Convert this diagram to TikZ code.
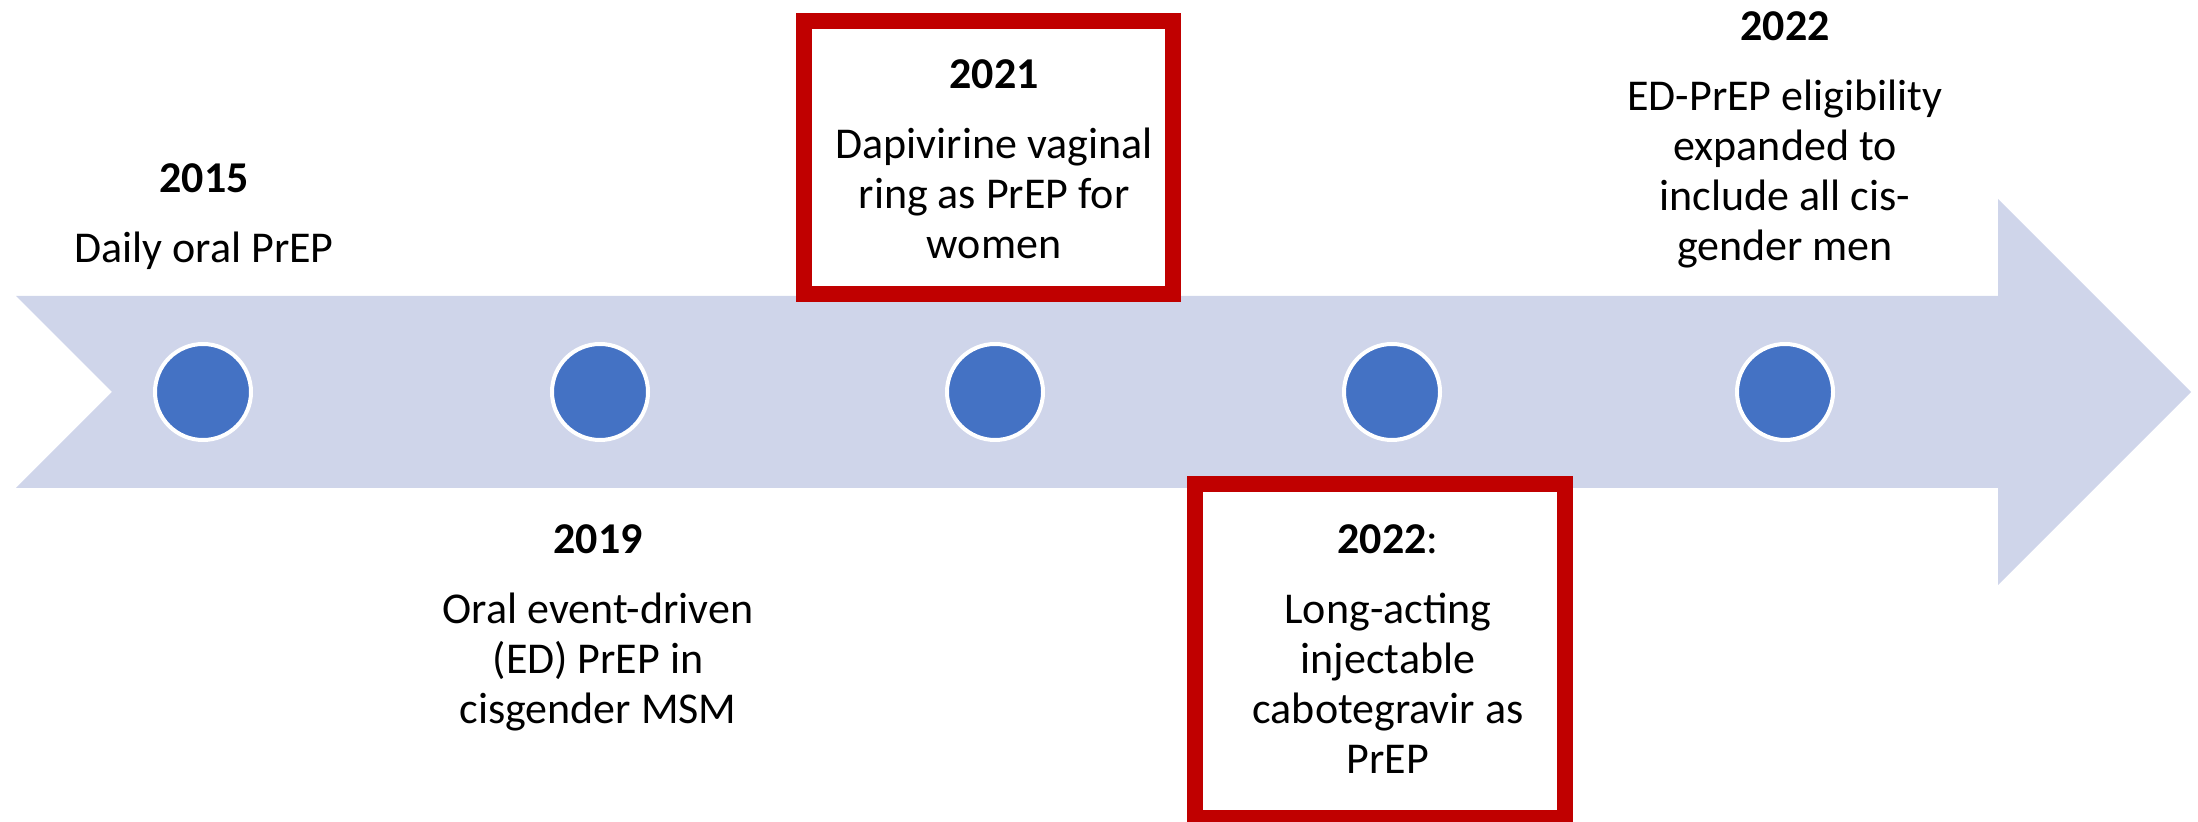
\documentclass[tikz,border=0pt]{standalone}
\usepackage{fontspec}
\setmainfont{Carlito}
\definecolor{BandBlue}{RGB}{207,213,234}
\definecolor{DotBlue}{RGB}{68,114,196}
\definecolor{FrameRed}{RGB}{192,0,0}
\tikzset{
  band/.style={fill=BandBlue},
  dot/.style={circle,fill=DotBlue,draw=white,line width=2pt,
    minimum size=48pt,inner sep=0pt},
  event/.style={anchor=north,align=center,inner sep=0pt,
    font=\fontsize{22}{25}\selectfont},
  redframe/.style={draw=FrameRed,line width=8pt}
}

\begin{document}
\begin{tikzpicture}[x=0.5pt,y=-0.5pt]
  \useasboundingbox (0,0) rectangle (2198,822);
  % timeline band with notched tail
  \fill[band] (16,296) -- (1998,296) -- (1998,199) -- (2191,392)
    -- (1998,585) -- (1998,488) -- (16,488) -- (112,392) -- cycle;
  \foreach \name/\x in {d2015/203,d2019/600,d2021/995,d2022a/1392,d2022b/1785}
    \node[dot] (\name) at (\x,392) {};

  \draw[redframe] (804,21) rectangle (1173,294);
  \draw[redframe] (1195,484) rectangle (1565,818);

  \node[event] (daily) at (204,163) {\textbf{2015}\\[10pt]Daily oral PrEP};
  \node[event] (eventdriven) at (598,524)
    {\textbf{2019}\\[10pt]Oral event-driven\\(ED) PrEP in\\cisgender MSM};
  \node[event] (ring) at (994,59)
    {\textbf{2021}\\[10pt]Dapivirine vaginal\\ring as PrEP for\\women};
  \node[event] (cabotegravir) at (1388,524)
    {\textbf{2022}:\\[10pt]Long-acting\\injectable\\cabotegravir as\\PrEP};
  \node[event] (eligibility) at (1785,11)
    {\textbf{2022}\\[10pt]ED-PrEP eligibility\\expanded to\\include all cis-\\gender men};
\end{tikzpicture}
\end{document}
